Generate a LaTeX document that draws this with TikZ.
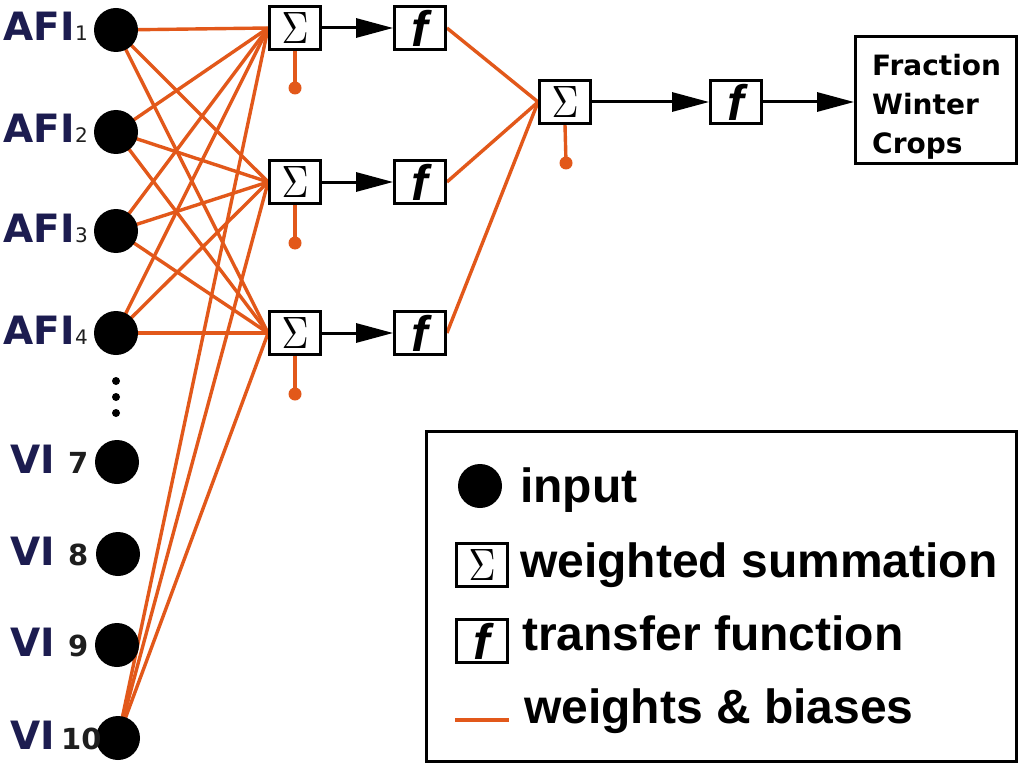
\documentclass[tikz,border=0pt]{standalone}
\usepackage[no-math]{fontspec}
\usepackage{graphicx}
\usetikzlibrary{arrows.meta}
\newfontfamily\dv{DejaVu Sans}
\newfontfamily\libsans{Liberation Sans}
\definecolor{orng}{RGB}{226,88,26}
\definecolor{navy}{RGB}{28,28,80}
\definecolor{dgray}{RGB}{30,30,30}
\newcommand{\SIG}{\resizebox{27pt}{31pt}{$\Sigma$}}
\pgfdeclarelayer{back}
\pgfdeclarelayer{bg}
\pgfsetlayers{back,bg,main}
\tikzset{
  inp/.style={circle, fill=black, minimum size=44pt, inner sep=0pt},
  dotn/.style={circle, fill=black, minimum size=8pt, inner sep=0pt},
  sumbox/.style={draw, line width=2.8pt, fill=white, minimum width=51pt, minimum height=43pt, inner sep=0pt},
  funbox/.style={draw, line width=2.8pt, fill=white, minimum width=51pt, minimum height=43pt, inner sep=0pt, font=\libsans\bfseries\itshape\fontsize{50}{50}\selectfont},
  wt/.style={draw=orng, line width=3.4pt},
  biasdot/.style={circle, fill=orng, minimum size=13pt, inner sep=0pt},
  flow/.style={draw=black, line width=3pt, -{Triangle[length=37pt,width=19pt]}},
  lbl/.style={anchor=base west, inner sep=0pt, text=navy, font=\dv\bfseries\fontsize{39}{39}\selectfont},
  subn/.style={anchor=base west, inner sep=0pt, text=dgray, font=\dv\fontsize{20}{20}\selectfont},
  vnum/.style={anchor=base west, inner sep=0pt, text=dgray, font=\dv\bfseries\fontsize{29}{29}\selectfont},
  outbox/.style={draw, line width=2.8pt, fill=white, minimum width=161pt, minimum height=127pt, inner sep=0pt},
  outtext/.style={anchor=north west, inner sep=0pt, align=left, font=\dv\bfseries\fontsize{28}{39}\selectfont},
  legbox/.style={draw, line width=2.6pt, minimum width=590pt, minimum height=330pt, inner sep=0pt},
  legtxt/.style={anchor=base west, inner sep=0pt, font=\libsans\bfseries\fontsize{48}{48}\selectfont}
}
\begin{document}
\begin{tikzpicture}[x=1pt,y=-1pt]
\begin{pgfonlayer}{back}
\fill[white] (0,0) rectangle (1024,770);
\end{pgfonlayer}
\useasboundingbox (0,0) rectangle (1024,770);
% inputs
\node[inp] (a1) at (116,30) {};
\node[inp] (a2) at (116,132) {};
\node[inp] (a3) at (116,231) {};
\node[inp] (a4) at (116,333) {};
\node[inp] (v7) at (117,462) {};
\node[inp] (v8) at (118,554) {};
\node[inp] (v9) at (117,645) {};
\node[inp] (v10) at (118,738) {};
\node[dotn] (d1) at (116,381) {};
\node[dotn] (d2) at (116,397) {};
\node[dotn] (d3) at (116,413) {};
% labels
\node[lbl] (la1) at (3,41) {AFI};
\node[subn] (na1) at (75,41) {1};
\node[lbl] (la2) at (3,143) {AFI};
\node[subn] (na2) at (75,143) {2};
\node[lbl] (la3) at (3,242) {AFI};
\node[subn] (na3) at (75,242) {3};
\node[lbl] (la4) at (3,344) {AFI};
\node[subn] (na4) at (75,344) {4};
\node[lbl] (lv7) at (10,473) {VI};
\node[vnum] (nv7) at (68,473) {7};
\node[lbl] (lv8) at (10,565) {VI};
\node[vnum] (nv8) at (68,565) {8};
\node[lbl] (lv9) at (10,656) {VI};
\node[vnum] (nv9) at (68,656) {9};
\node[lbl] (lv10) at (10,749) {VI};
\node[vnum] (nv10) at (61,749) {10};
% hidden layer
\node[sumbox] (s1) at (295,28) {\SIG};
\node[sumbox] (s2) at (295,182) {\SIG};
\node[sumbox] (s3) at (295,333) {\SIG};
\node[funbox] (f1) at (420,28) {f};
\node[funbox] (f2) at (420,182) {f};
\node[funbox] (f3) at (420,333) {f};
\node[biasdot] (b1) at (295,88) {};
\node[biasdot] (b2) at (295,243) {};
\node[biasdot] (b3) at (295,394) {};
% output layer
\node[sumbox] (so) at (565,102) {\SIG};
\node[biasdot] (bo) at (566,163) {};
\node[funbox] (fo) at (736,102) {f};
\node[outbox] (out) at (936,100) {};
\node[outtext] (outt) at (872,53.7) {Fraction\\Winter\\Crops};
% connectors
\begin{pgfonlayer}{bg}
\foreach \i in {a1,a2,a3,a4,v10}{
  \foreach \j in {s1,s2,s3}{
    \draw[wt] (\i.center) -- (\j.west);
  }
}
\foreach \i in {1,2,3}{
  \draw[wt] (s\i.south) -- (b\i.center);
  \draw[wt] (f\i.east) -- (so.west);
}
\draw[wt] (so.south) -- (bo.center);
\end{pgfonlayer}
\foreach \i in {1,2,3}{
  \draw[flow] (s\i.east) -- (f\i.west);
}
\draw[flow] (so.east) -- (fo.west);
\draw[flow] (fo.east) -- (fo.east -| out.west);
% legend
\node[legbox] (leg) at (721.5,596.5) {};
\node[inp] (li) at (480,486) {};
\node[sumbox] (ls) at (482,565) {\SIG};
\node[funbox] (lf) at (482,641) {f};
\coordinate (lw1) at (455,720);
\coordinate (lw2) at (509,720);
\draw[wt, line width=3.6pt] (lw1) -- (lw2);
\node[legtxt] (t1) at (520,502) {input};
\node[legtxt] (t2) at (520,577) {weighted summation};
\node[legtxt] (t3) at (522,650) {transfer function};
\node[legtxt] (t4) at (524,723) {weights \& biases};
\end{tikzpicture}
\end{document}
